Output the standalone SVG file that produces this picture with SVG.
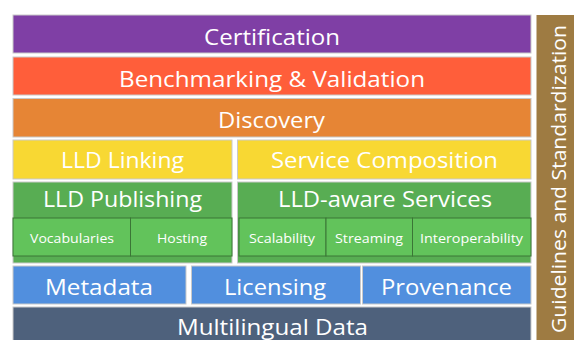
<svg xmlns="http://www.w3.org/2000/svg" width="574" height="340" viewBox="0 0 574 340">
<style>
.box{stroke:#c9c9c9;stroke-width:1}
.sub{fill:#62C35B;stroke:#3B7636;stroke-width:1}
.t{font-family:"Open Sans","Noto Sans","DejaVu Sans",sans-serif;fill:#ffffff;text-anchor:middle;font-size:22px}
.s{font-family:"Open Sans","Noto Sans","DejaVu Sans",sans-serif;fill:#ffffff;text-anchor:middle;font-size:13px}
</style>
<rect width="574" height="340" fill="#ffffff"/>
<g id="certification"><rect class="box" x="13" y="15" width="518" height="38" fill="#7F3FA5"/><text class="t" x="272" y="45" textLength="136" lengthAdjust="spacingAndGlyphs">Certification</text></g>
<g id="benchmarking"><rect class="box" x="13" y="57" width="518" height="38" fill="#FF5E3A"/><text class="t" x="272" y="87" textLength="306" lengthAdjust="spacingAndGlyphs">Benchmarking &amp; Validation</text></g>
<g id="discovery"><rect class="box" x="13" y="98.5" width="518" height="38.5" fill="#E68535"/><text class="t" x="271.5" y="128" textLength="107" lengthAdjust="spacingAndGlyphs">Discovery</text></g>
<g id="lld-linking"><rect class="box" x="13" y="140" width="219" height="39" fill="#F8D833"/><text class="t" x="122.5" y="168" textLength="123" lengthAdjust="spacingAndGlyphs">LLD Linking</text></g>
<g id="service-composition"><rect class="box" x="237.5" y="140" width="293.5" height="39" fill="#F8D833"/><text class="t" x="384.5" y="168" textLength="227" lengthAdjust="spacingAndGlyphs">Service Composition</text></g>
<g id="lld-publishing"><rect class="box" x="13" y="182" width="219" height="81" fill="#58AD53"/><text class="t" x="122.5" y="207" textLength="159" lengthAdjust="spacingAndGlyphs">LLD Publishing</text></g>
<g id="vocabularies"><rect class="sub" x="13" y="218" width="117.5" height="38"/><text class="s" x="72" y="243" textLength="84" lengthAdjust="spacingAndGlyphs">Vocabularies</text></g>
<g id="hosting"><rect class="sub" x="130.5" y="218" width="101.5" height="38"/><text class="s" x="182" y="243" textLength="50" lengthAdjust="spacingAndGlyphs">Hosting</text></g>
<g id="lld-aware-services"><rect class="box" x="237.5" y="182" width="293.5" height="81" fill="#58AD53"/><text class="t" x="385" y="207" textLength="214" lengthAdjust="spacingAndGlyphs">LLD-aware Services</text></g>
<g id="scalability"><rect class="sub" x="239" y="218" width="87" height="38"/><text class="s" x="282" y="243" textLength="66" lengthAdjust="spacingAndGlyphs">Scalability</text></g>
<g id="streaming"><rect class="sub" x="326" y="218" width="86.5" height="38"/><text class="s" x="369" y="243" textLength="68" lengthAdjust="spacingAndGlyphs">Streaming</text></g>
<g id="interoperability"><rect class="sub" x="412.5" y="218" width="118.5" height="38"/><text class="s" x="471.5" y="243" textLength="103" lengthAdjust="spacingAndGlyphs">Interoperability</text></g>
<g id="metadata"><rect class="box" x="13" y="266" width="173" height="38" fill="#518FDE"/><text class="t" x="99" y="295" textLength="108" lengthAdjust="spacingAndGlyphs">Metadata</text></g>
<g id="licensing"><rect class="box" x="191.5" y="266" width="169" height="38" fill="#518FDE"/><text class="t" x="275" y="295" textLength="102" lengthAdjust="spacingAndGlyphs">Licensing</text></g>
<g id="provenance"><rect class="box" x="362.5" y="266" width="168.5" height="38" fill="#518FDE"/><text class="t" x="446.5" y="295" textLength="131" lengthAdjust="spacingAndGlyphs">Provenance</text></g>
<g id="multilingual-data"><rect class="box" x="13" y="307" width="518" height="40" fill="#4E617C"/><text class="t" x="272.5" y="335" textLength="191" lengthAdjust="spacingAndGlyphs">Multilingual Data</text></g>
<g id="guidelines"><rect x="536.5" y="15" width="40" height="330" fill="#9E7B42"/><text class="t" transform="translate(565.5 179) rotate(-90)" x="0" y="0" font-size="20" style="font-size:20px" textLength="308" lengthAdjust="spacingAndGlyphs">Guidelines and Standardization</text></g>
<g id="connectors"></g>
</svg>
